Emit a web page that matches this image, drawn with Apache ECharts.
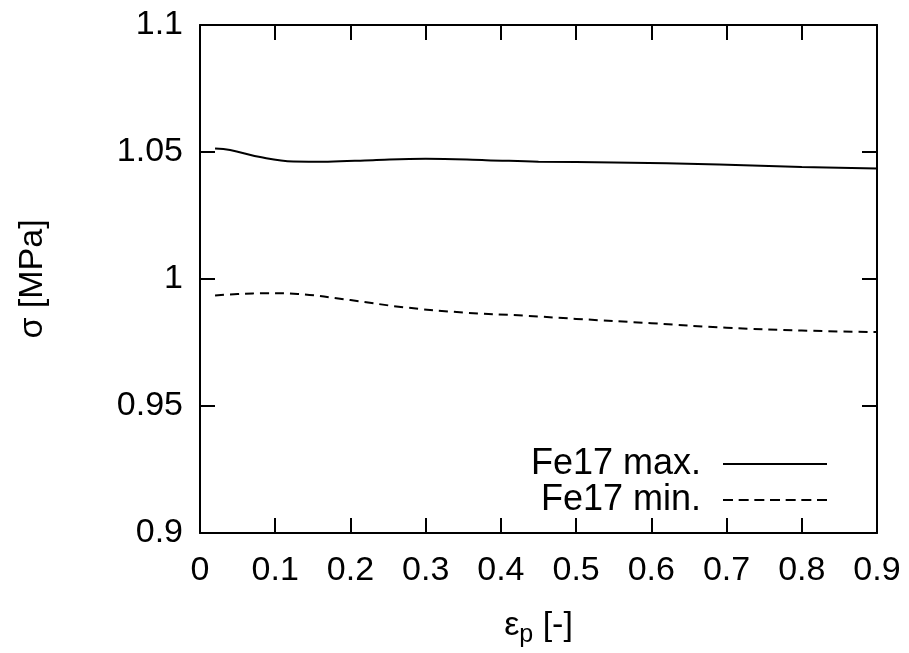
<!DOCTYPE html>
<html>
<head>
<meta charset="utf-8">
<script src="https://cdn.jsdelivr.net/npm/echarts@6/dist/echarts.min.js"></script>
<style>html,body{margin:0;padding:0;background:#fff}#c{width:909px;height:653px}</style>
</head>
<body>
<div id="c"></div>
<script>
// plastic strain ε_p [-]
const strainMax = [0.02, 0.04, 0.08, 0.124, 0.17, 0.23, 0.30, 0.38, 0.45, 0.55, 0.69, 0.80, 0.90];
const stressMax = [1.0514, 1.0508, 1.0480, 1.0463, 1.0462, 1.0468, 1.0473, 1.0468, 1.0462, 1.0459, 1.0451, 1.0441, 1.0435];
const strainMin = [0.02, 0.05, 0.09, 0.13, 0.20, 0.27, 0.35, 0.43, 0.50, 0.60, 0.70, 0.80, 0.90];
const stressMin = [0.9935, 0.9941, 0.9944, 0.9941, 0.9917, 0.9889, 0.9868, 0.9856, 0.9843, 0.9826, 0.9808, 0.9797, 0.9791];
const seriesNames = ['Fe17 max.', 'Fe17 min.'];

const font = 'Liberation Sans, Arial, sans-serif';
const fs = 34;
const pairs = (xs, ys) => xs.map((x, i) => [x, ys[i]]);

// legend keys: a solid bar and a row of seven dashes
const solidKey = 'path://M0,0H104V2H0Z';
const dashedKey = 'path://' + [0, 15.67, 31.33, 47, 62.67, 78.33, 94]
  .map(x => 'M' + x + ',0h10v2h-10Z').join(' ');

const chart = echarts.init(document.getElementById('c'));
const baseAxis = {
  axisLine: { show: true, onZero: false, lineStyle: { color: '#000', width: 2 } },
  axisTick: { show: true, inside: true, length: 15, lineStyle: { color: '#000', width: 2 } },
  splitLine: { show: false }
};
chart.setOption({
  animation: false,
  backgroundColor: '#fff',
  grid: { left: 200, top: 25, right: 32, bottom: 118 },
  legend: {
    orient: 'vertical',
    right: 77, top: 441,
    align: 'right',
    itemWidth: 104, itemHeight: 2, itemGap: 0,
    textStyle: { fontFamily: font, fontSize: 36, lineHeight: 35, color: '#000', padding: [0, 17, 0, 0] },
    data: [
      { name: seriesNames[0], icon: solidKey, itemStyle: { color: '#000' } },
      { name: seriesNames[1], icon: dashedKey, itemStyle: { color: '#000' } }
    ]
  },
  xAxis: [
    Object.assign({}, baseAxis, {
      type: 'value', min: 0, max: 0.9, interval: 0.1, position: 'bottom',
      axisLabel: { fontFamily: font, fontSize: fs, color: '#000', margin: 21 },
      name: 'ε{sub|p} [-]', nameLocation: 'middle', nameGap: 70,
      nameTextStyle: { fontFamily: font, fontSize: fs, color: '#000',
        rich: { sub: { fontFamily: font, fontSize: 25, color: '#000', padding: [20, 0, 0, 0] } } }
    }),
    Object.assign({}, baseAxis, {
      type: 'value', min: 0, max: 0.9, interval: 0.1, position: 'top',
      axisLabel: { show: false }
    })
  ],
  yAxis: [
    Object.assign({}, baseAxis, {
      type: 'value', min: 0.9, max: 1.1, interval: 0.05, position: 'left',
      axisLabel: { fontFamily: font, fontSize: fs, color: '#000', margin: 17 },
      name: 'σ [MPa]', nameLocation: 'middle', nameGap: 150, nameRotate: 90,
      nameTextStyle: { fontFamily: font, fontSize: fs, color: '#000' }
    }),
    Object.assign({}, baseAxis, {
      type: 'value', min: 0.9, max: 1.1, interval: 0.05, position: 'right',
      axisLabel: { show: false }
    })
  ],
  series: [
    {
      name: seriesNames[0], type: 'line', smooth: 0.4, symbol: 'none',
      data: pairs(strainMax, stressMax),
      lineStyle: { color: '#000', width: 2, type: 'solid' },
      itemStyle: { color: '#000' }
    },
    {
      name: seriesNames[1], type: 'line', smooth: 0.4, symbol: 'none',
      data: pairs(strainMin, stressMin),
      lineStyle: { color: '#000', width: 2, type: [9, 6] },
      itemStyle: { color: '#000' }
    }
  ]
});
</script>
</body>
</html>
